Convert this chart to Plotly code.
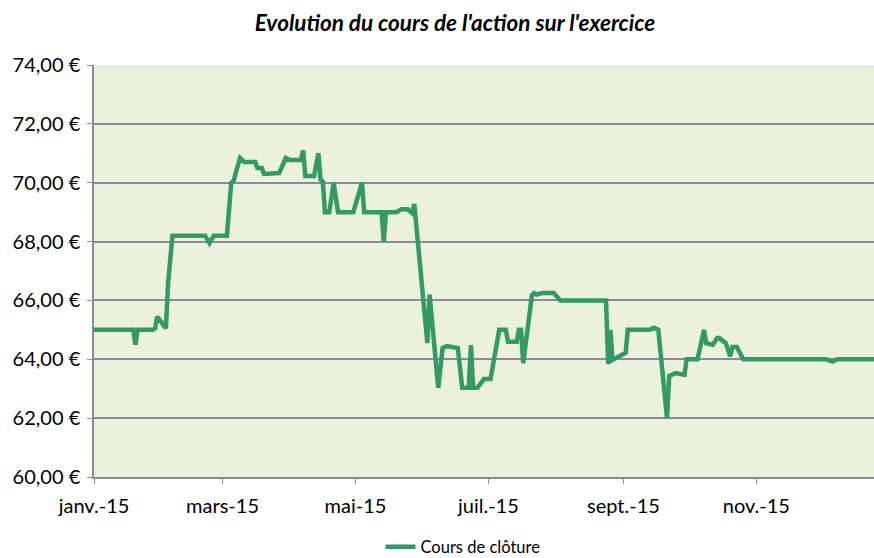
import plotly.graph_objects as go

dates = [
    "2015-01-01", "2015-01-19", "2015-01-20", "2015-01-21", "2015-01-28", "2015-01-29",
    "2015-01-30", "2015-02-03", "2015-02-04", "2015-02-06", "2015-02-21", "2015-02-23",
    "2015-02-25", "2015-03-03", "2015-03-05", "2015-03-06", "2015-03-09", "2015-03-11",
    "2015-03-16", "2015-03-17", "2015-03-19", "2015-03-20", "2015-03-27", "2015-03-30",
    "2015-04-01", "2015-04-06", "2015-04-07", "2015-04-08", "2015-04-12", "2015-04-14",
    "2015-04-15", "2015-04-16", "2015-04-17", "2015-04-19", "2015-04-21", "2015-04-23",
    "2015-04-30", "2015-05-04", "2015-05-05", "2015-05-13", "2015-05-14", "2015-05-15",
    "2015-05-20", "2015-05-22", "2015-05-25", "2015-05-27", "2015-05-28", "2015-06-01",
    "2015-06-03", "2015-06-04", "2015-06-08", "2015-06-10", "2015-06-12", "2015-06-17",
    "2015-06-19", "2015-06-22", "2015-06-23", "2015-06-24", "2015-06-26", "2015-06-29",
    "2015-07-02", "2015-07-06", "2015-07-09", "2015-07-10", "2015-07-14", "2015-07-15",
    "2015-07-16", "2015-07-17", "2015-07-21", "2015-07-22", "2015-07-23", "2015-07-26",
    "2015-07-31", "2015-08-03", "2015-08-24", "2015-08-25", "2015-08-26", "2015-08-27",
    "2015-09-02", "2015-09-03", "2015-09-13", "2015-09-15", "2015-09-17", "2015-09-21",
    "2015-09-22", "2015-09-25", "2015-09-29", "2015-09-30", "2015-10-05", "2015-10-08",
    "2015-10-09", "2015-10-12", "2015-10-14", "2015-10-15", "2015-10-18", "2015-10-20",
    "2015-10-21", "2015-10-23", "2015-10-26", "2015-12-03", "2015-12-06", "2015-12-08",
    "2015-12-31",
]
cours = [
    65.00, 65.00, 64.50, 65.00, 65.00, 65.05,
    65.45, 65.05, 66.60, 68.20, 68.20, 67.95,
    68.20, 68.20, 70.00, 70.05, 70.84, 70.70,
    70.70, 70.50, 70.50, 70.30, 70.33, 70.84,
    70.77, 70.77, 71.10, 70.23, 70.23, 71.00,
    70.10, 70.05, 69.00, 69.00, 70.00, 69.00,
    69.00, 70.00, 69.00, 69.00, 68.00, 69.00,
    69.00, 69.10, 69.10, 68.97, 69.28, 66.25,
    64.55, 66.20, 63.03, 64.38, 64.45, 64.38,
    63.03, 63.03, 64.48, 63.03, 63.03, 63.33,
    63.33, 65.00, 65.00, 64.60, 64.60, 65.00,
    65.00, 63.87, 66.18, 66.25, 66.20, 66.25,
    66.25, 66.00, 66.00, 63.84, 65.00, 63.98,
    64.22, 65.00, 65.00, 65.07, 65.00, 62.00,
    63.43, 63.53, 63.47, 64.00, 64.00, 65.00,
    64.55, 64.49, 64.72, 64.72, 64.55, 64.10,
    64.42, 64.42, 64.00, 64.00, 63.92, 64.00,
    64.00,
]

tick_dates = ["2015-01-01", "2015-03-01", "2015-05-01", "2015-07-01", "2015-09-01", "2015-11-01"]
tick_labels = ["janv.-15", "mars-15", "mai-15", "juil.-15", "sept.-15", "nov.-15"]

FONT = "Lato, Liberation Sans, Arial, sans-serif"
GRID = "#8c8c8c"
W, H = 874, 558

fig = go.Figure()
fig.add_trace(go.Scatter(
    x=dates, y=cours, mode="lines", name="Cours de clôture",
    line=dict(color="#339966", width=4.5, shape="linear"),
))

fig.update_layout(
    width=W, height=H,
    margin=dict(l=94, r=0, t=65, b=81),
    paper_bgcolor="white",
    plot_bgcolor="#EBF1DE",
    separators=", ",
    font=dict(family=FONT, size=20, color="#000000"),
    title=dict(
        text="<b><i>Evolution du cours de l'action sur l'exercice</i></b>",
        x=455 / W, xanchor="center", xref="container",
        y=1 - 23 / H, yanchor="middle", yref="container",
        font=dict(family=FONT, size=22.5, color="#000000"),
    ),
    showlegend=True,
    legend=dict(
        orientation="h", x=463 / W, xanchor="center", xref="container",
        y=1 - 547 / H, yanchor="middle", yref="container",
        font=dict(family=FONT, size=16.5, color="#000000"),
        bgcolor="rgba(0,0,0,0)",
    ),
    xaxis=dict(
        type="date",
        range=["2015-01-01", "2015-12-25"],
        tickvals=tick_dates, ticktext=tick_labels,
        ticks="outside", ticklen=5, tickcolor=GRID, tickwidth=1,
        showgrid=False, zeroline=False,
        showline=True, linecolor=GRID, linewidth=1.5,
        tickfont=dict(family=FONT, size=20),
        ticklabelstandoff=5,
    ),
    yaxis=dict(
        range=[60, 74], dtick=2, tick0=60,
        tickformat=".2f", ticksuffix=" €",
        ticks="outside", ticklen=5, tickcolor=GRID, tickwidth=1,
        showgrid=True, gridcolor=GRID, gridwidth=1.5,
        zeroline=False,
        showline=True, linecolor=GRID, linewidth=1.5,
        tickfont=dict(family=FONT, size=20),
        ticklabelstandoff=3,
    ),
)

fig.write_html(
    "out.html",
    config={"displayModeBar": False},
    post_script="document.body.style.margin='0';document.body.style.overflow='hidden';",
)
